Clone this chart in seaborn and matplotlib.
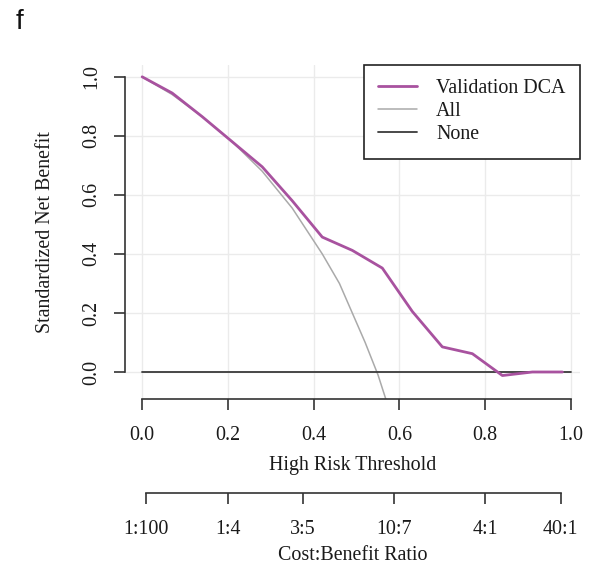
import matplotlib
matplotlib.use("Agg")
import matplotlib.pyplot as plt
import seaborn as sns
import numpy as np
import pandas as pd

# ---- data ----
thr_model = [0.0, 0.07, 0.14, 0.21, 0.28, 0.35, 0.42, 0.49, 0.56, 0.63, 0.70, 0.77, 0.84, 0.91, 0.98]
snb_model = [1.0, 0.945, 0.865, 0.78, 0.695, 0.58, 0.457, 0.412, 0.352, 0.205, 0.085, 0.062, -0.012, 0.0, 0.0]

thr_all = [0.0, 0.07, 0.14, 0.21, 0.28, 0.35, 0.42, 0.46, 0.49, 0.52, 0.55, 0.57]
snb_all = [1.0, 0.94, 0.865, 0.78, 0.68, 0.555, 0.40, 0.30, 0.20, 0.10, -0.01, -0.10]

thr_none = [0.0, 1.0]
snb_none = [0.0, 0.0]

x_ticks = [0.0, 0.2, 0.4, 0.6, 0.8, 1.0]
x_ticklabels = ["0.0", "0.2", "0.4", "0.6", "0.8", "1.0"]
y_ticks = [0.0, 0.2, 0.4, 0.6, 0.8, 1.0]
y_ticklabels = ["0.0", "0.2", "0.4", "0.6", "0.8", "1.0"]
cb_labels = ["1:100", "1:4", "3:5", "10:7", "4:1", "40:1"]
cb_thresholds = [1 / 101, 1 / 5, 3 / 8, 10 / 17, 4 / 5, 40 / 41]

# ---- style ----
sns.set_theme(style="white")
plt.rcParams["font.family"] = ["Liberation Serif", "DejaVu Serif"]
FS = 14.4
TXT = "#1a1a1a"
AXC = "#333333"

W, H = 593, 568
fig = plt.figure(figsize=(W / 100, H / 100), dpi=100)
fig.patch.set_facecolor("white")

xl, xr = 125, 580
yt, yb = 65, 399
ax = fig.add_axes([xl / W, 1 - yb / H, (xr - xl) / W, (yb - yt) / H])
ax.set_xlim(-0.04, 1.021)
ax.set_ylim(-0.0915, 1.04)

# grid
for v in x_ticks:
    ax.axvline(v, color="#ebebeb", lw=1.0, zorder=0)
for v in y_ticks:
    ax.axhline(v, color="#ebebeb", lw=1.0, zorder=0)

df_model = pd.DataFrame({"t": thr_model, "nb": snb_model})
df_all = pd.DataFrame({"t": thr_all, "nb": snb_all})
df_none = pd.DataFrame({"t": thr_none, "nb": snb_none})

sns.lineplot(data=df_all, x="t", y="nb", ax=ax, color="#aaaaaa", lw=1.1,
             label="All", sort=False, zorder=2)
sns.lineplot(data=df_none, x="t", y="nb", ax=ax, color="#3a3a3a", lw=1.3,
             label="None", sort=False, zorder=3)
sns.lineplot(data=df_model, x="t", y="nb", ax=ax, color="#a8529f", lw=2.0,
             label="Validation DCA", sort=False, zorder=4)

# spines
for s in ["top", "right"]:
    ax.spines[s].set_visible(False)
ax.spines["left"].set_bounds(0, 1)
ax.spines["bottom"].set_bounds(0, 1)
for s in ["left", "bottom"]:
    ax.spines[s].set_color(AXC)
    ax.spines[s].set_linewidth(1.2)

ax.set_xticks(x_ticks)
ax.set_xticklabels(x_ticklabels, fontsize=FS, color=TXT)
ax.set_yticks(y_ticks)
ax.set_yticklabels(y_ticklabels, fontsize=FS, color=TXT, rotation=90, va="center")
ax.tick_params(axis="both", direction="out", length=8, width=1.2, color=AXC,
               bottom=True, left=True)
ax.tick_params(axis="x", pad=11.5)
ax.tick_params(axis="y", pad=9)
ax.set_xlabel("High Risk Threshold", fontsize=FS, color=TXT, labelpad=8)
ax.set_ylabel("Standardized Net Benefit", fontsize=FS, color=TXT, labelpad=20)

# legend
handles, labels = ax.get_legend_handles_labels()
order = [labels.index("Validation DCA"), labels.index("All"), labels.index("None")]
leg = ax.legend([handles[i] for i in order], [labels[i] for i in order],
                loc="upper right", bbox_to_anchor=(1.0, 1.0), borderaxespad=0,
                fontsize=FS, frameon=True, fancybox=False, edgecolor="#222222",
                framealpha=1, handlelength=1.95, handletextpad=0.95,
                labelspacing=0.2, borderpad=0.72)
leg.get_frame().set_linewidth(1.2)
for t in leg.get_texts():
    t.set_color(TXT)

# cost:benefit axis
yc = 493
ax2 = fig.add_axes([xl / W, 1 - yc / H, (xr - xl) / W, 0.0005])
ax2.set_xlim(ax.get_xlim())
ax2.patch.set_visible(False)
for s in ["top", "right", "left"]:
    ax2.spines[s].set_visible(False)
ax2.spines["bottom"].set_bounds(cb_thresholds[0], cb_thresholds[-1])
ax2.spines["bottom"].set_color(AXC)
ax2.spines["bottom"].set_linewidth(1.2)
ax2.set_yticks([])
ax2.set_xticks(cb_thresholds)
ax2.set_xticklabels(cb_labels, fontsize=FS, color=TXT)
ax2.tick_params(axis="x", direction="out", length=8, width=1.2, color=AXC, pad=11.5,
                bottom=True)
ax2.set_xlabel("Cost:Benefit Ratio", fontsize=FS, color=TXT, labelpad=5)

fig.text(16 / W, 1 - 29 / H, "f", fontsize=20, family=["Liberation Sans"], color="#111111",
         ha="left", va="baseline")

fig.savefig("out.png", dpi=100)
